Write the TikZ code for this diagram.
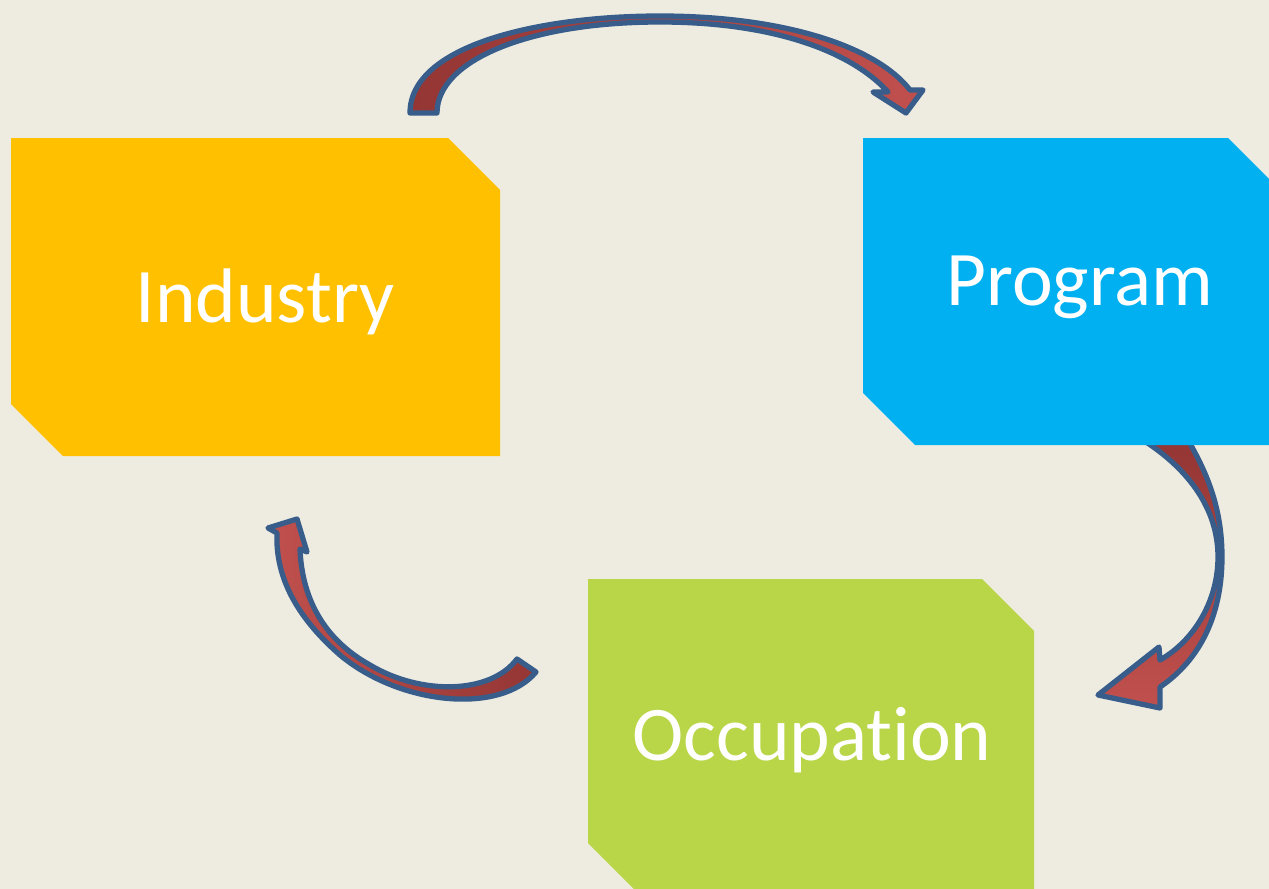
\documentclass[tikz,border=0pt]{standalone}
\usepackage{fontspec}
\setmainfont{Carlito}[Ligatures=NoCommon]
\usepackage{tikz}
\usepackage{xcolor}

\definecolor{paper}{HTML}{EEECE1}
\definecolor{indgold}{HTML}{FFC000}
\definecolor{progblue}{HTML}{00B0F0}
\definecolor{occgreen}{HTML}{B9D548}
\definecolor{arrowred}{HTML}{C0504D}
\definecolor{arrowdark}{HTML}{943634}
\definecolor{arrowrim}{HTML}{385D8A}

% box with the top right and bottom left corners snipped off
\newcommand{\snipbox}[5]{%
  \fill[#5] (#1,#2) -- ({#3-\cut},#2) -- (#3,{#2+\cut}) -- (#3,#4)
    -- ({#1+\cut},#4) -- (#1,{#4-\cut}) -- cycle;}

\tikzset{
  bentarrow/.style={draw=arrowrim, line width=3pt, line join=round},
  boxtext/.style={text=white, anchor=base, font=\fontsize{44}{52}\selectfont}
}

\begin{document}
\begin{tikzpicture}[x=0.02cm, y=-0.02cm]

  % ── page ─────────────────────────────────────────────────────────────────
  \fill[paper] (0,0) rectangle (1269,889);
  \clip (0,0) rectangle (1269,889);

  \def\cut{52}

  % ── curved arrows ────────────────────────────────────────────────────────
  % Industry -> Program, over the top
  \path[bentarrow, left color=arrowdark, right color=arrowred]
    (410,113) .. controls (410,45) and (540,16) .. (660,16)
    .. controls (780,16) and (875,45) .. (910,90)
    -- (923,90) -- (906,113) -- (873,92) -- (888,92)
    .. controls (850,50) and (770,22) .. (660,22)
    .. controls (530,22) and (437,60) .. (437,113) -- cycle;

  % Program -> Occupation, down the right side
  \path[bentarrow, top color=arrowdark, bottom color=arrowred]
    (1143,440) .. controls (1190,470) and (1218,510) .. (1218,557)
    .. controls (1218,600) and (1195,640) .. (1160,660)
    -- (1159,647) -- (1098,695) -- (1160,708) -- (1160,687)
    .. controls (1200,660) and (1222,615) .. (1222,557)
    .. controls (1222,505) and (1205,470) .. (1188,440) -- cycle;

  % Occupation -> Industry, round the bottom left
  \path[bentarrow, left color=arrowred, right color=arrowdark]
    (536,672) .. controls (500,715) and (400,705) .. (340,655)
    .. controls (300,620) and (275,580) .. (277,533)
    -- (268,528) -- (297,519) -- (307,552) -- (300,549)
    .. controls (302,600) and (325,640) .. (370,665)
    .. controls (420,695) and (490,695) .. (517,659) -- cycle;

  % ── boxes ────────────────────────────────────────────────────────────────
  \snipbox{11}{138}{500}{456}{indgold}
  \snipbox{863}{138}{1280}{445}{progblue}
  \snipbox{588}{579}{1034}{895}{occgreen}

  \node[boxtext] (industry)   at (265,322) {Industry};
  \node[boxtext] (program)    at (1080,305) {Program};
  \node[boxtext] (occupation) at (812,760) {Occupation};

\end{tikzpicture}
\end{document}
